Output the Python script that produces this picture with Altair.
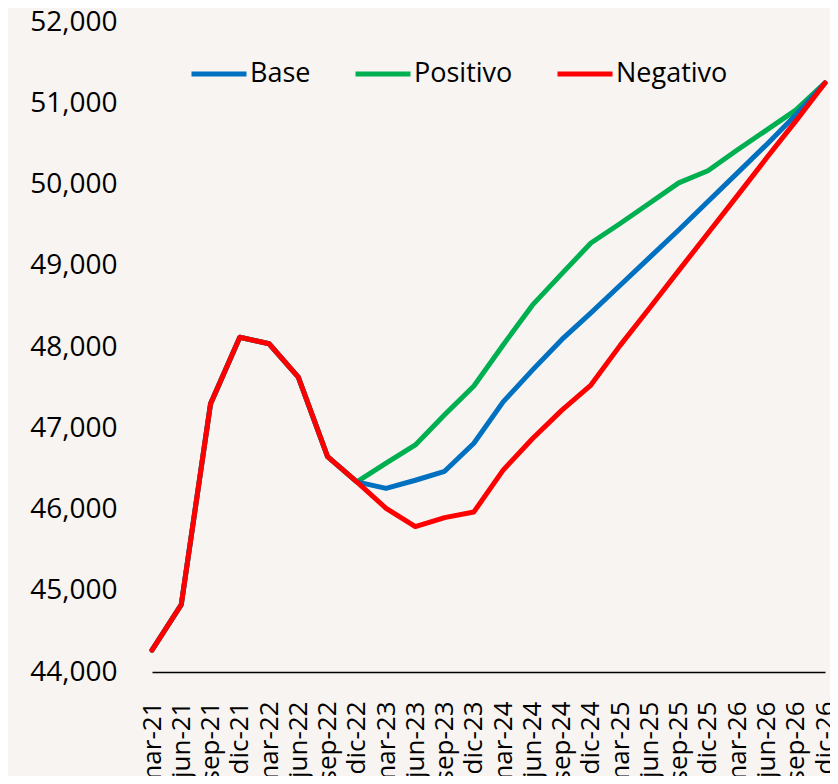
import altair as alt
import pandas as pd

periods = ["mar-21", "jun-21", "sep-21", "dic-21", "mar-22", "jun-22", "sep-22", "dic-22",
           "mar-23", "jun-23", "sep-23", "dic-23", "mar-24", "jun-24", "sep-24", "dic-24",
           "mar-25", "jun-25", "sep-25", "dic-25", "mar-26", "jun-26", "sep-26", "dic-26"]

# observed values (shared by all scenarios), mar-21 .. dic-22
historic = [44270, 44830, 47300, 48120, 48040, 47630, 46650, 46340]

# projections, mar-23 .. dic-26
base_proj = [46260, 46360, 46470, 46815, 47325, 47715, 48090, 48420,
             48760, 49100, 49440, 49790, 50140, 50490, 50855, 51250]
pos_proj = [46570, 46795, 47165, 47520, 48025, 48515, 48900, 49280,
            49520, 49770, 50020, 50170, 50425, 50670, 50915, 51250]
neg_proj = [46015, 45790, 45900, 45970, 46485, 46870, 47220, 47532,
            48020, 48476, 48940, 49400, 49860, 50325, 50780, 51250]

series_names = ["Base", "Positivo", "Negativo"]
series_colors = ["#0070C0", "#00B050", "#FF0000"]
y_ticks = [44000, 45000, 46000, 47000, 48000, 49000, 50000, 51000, 52000]

rows = []
for name, proj in zip(series_names, [base_proj, pos_proj, neg_proj]):
    for p, v in zip(periods, historic + proj):
        rows.append({"period": p, "series": name, "value": v})
df = pd.DataFrame(rows)

FONT = "Open Sans"

base = alt.Chart(df).mark_line(strokeWidth=5, strokeCap="round", strokeJoin="round").encode(
    x=alt.X("period:N", sort=periods, title=None,
            scale=alt.Scale(type="point", range=[15, 688], padding=0),
            axis=alt.Axis(labelAngle=-90, labelFontSize=26, labelFont=FONT, labelColor="#000000",
                          ticks=False, tickSize=0, labelPadding=29, domainColor="#000000",
                          domainWidth=1.5, grid=False)),
    y=alt.Y("value:Q", title=None,
            scale=alt.Scale(domain=[44000, 52000], nice=False, zero=False),
            axis=alt.Axis(values=y_ticks, format=",d", labelFontSize=28, labelFont=FONT,
                          labelColor="#000000", ticks=False, tickSize=0, domain=False,
                          grid=False, labelPadding=20)),
    color=alt.Color("series:N",
                    scale=alt.Scale(domain=series_names, range=series_colors),
                    legend=alt.Legend(title=None, orient="none", direction="horizontal",
                                      legendX=52, legendY=22, symbolType="stroke",
                                      symbolSize=3025, symbolStrokeWidth=5,
                                      labelFontSize=27, labelFont=FONT, labelColor="#000000",
                                      labelOffset=1, columnPadding=34)),
)

layers = [base.transform_filter(alt.datum.series == s) for s in ["Positivo", "Base", "Negativo"]]

chart = alt.layer(*layers).properties(
    width=693, height=650,
    autosize=alt.AutoSizeParams(type="none"),
    padding={"left": 129, "top": 14, "right": 0, "bottom": 104},
    background="#F7F4F1",
).configure_view(stroke=None)

chart.save("out.html", embed_options={"renderer": "svg", "actions": False})
